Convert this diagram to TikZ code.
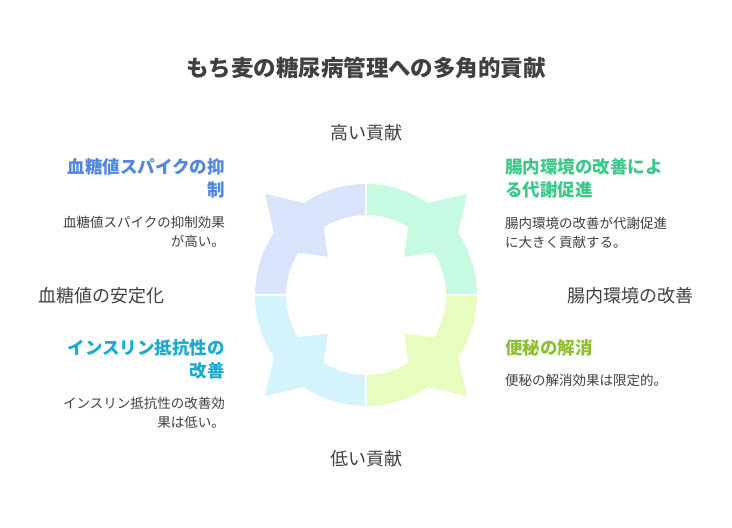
\documentclass[tikz,border=0pt]{standalone}
\usepackage{fontspec}
\setmainfont{Noto Sans CJK JP}
\usetikzlibrary{calc}
\begin{document}
\begin{tikzpicture}[x=1pt,y=-1pt,
  head/.style={font=\fontsize{17.5}{23}\selectfont\bfseries, align=#1, inner sep=0},
  body/.style={font=\fontsize{13.5}{18.5}\selectfont, text=black!75, align=#1, inner sep=0},
  lab/.style={font=\fontsize{18}{20}\selectfont, text=black!75, inner sep=0}]
\useasboundingbox (0,0) rectangle (732,528);
\definecolor{qb}{HTML}{D9E3FC}\definecolor{qg}{HTML}{C6FAE3}
\definecolor{ql}{HTML}{E8FCC0}\definecolor{qc}{HTML}{D3F3FD}
\definecolor{tb}{HTML}{4F86E0}\definecolor{tg}{HTML}{3CC88A}
\definecolor{tl}{HTML}{8FBF2F}\definecolor{tc}{HTML}{1BA9D0}
\coordinate (c) at (366,295);
\foreach \a/\col in {0/ql,90/qc,180/qb,270/qg}{
  \pgfmathsetmacro{\m}{\a+45}
  \fill[\col] ($(c)+(\a:111)$) arc[start angle=\a,end angle=\m-11,radius=111]
    -- ($(c)+(\m:143)$) -- ($(c)+(\m+11:111)$)
    arc[start angle=\m+11,end angle=\a+90,radius=111]
    -- ($(c)+(\a+90:80)$) arc[start angle=\a+90,end angle=\m+13,radius=80]
    -- ($(c)+(\m:54)$) -- ($(c)+(\m-13:80)$)
    arc[start angle=\m-13,end angle=\a,radius=80] -- cycle;
}
\draw[white,line width=1.5] ($(c)+(0,-115)$) -- ($(c)+(0,115)$) ($(c)+(-115,0)$) -- ($(c)+(115,0)$);
\node[font=\fontsize{22.5}{26}\selectfont\bfseries,text=black!75] (t) at (366,68) {もち麦の糖尿病管理への多角的貢献};
\node[lab] (hi) at (366,133) {高い貢献};
\node[lab] (lo) at (366,459) {低い貢献};
\node[lab,anchor=west] (l) at (38,296) {血糖値の安定化};
\node[lab,anchor=east] (r) at (694,296) {腸内環境の改善};
\node[head=right,text=tb,anchor=north east] (h1) at (225,158) {血糖値スパイクの抑\\制};
\node[body=right,anchor=north east] (b1) at (225,216) {血糖値スパイクの抑制効果\\が高い。};
\node[head=left,text=tg,anchor=north west] (h2) at (505,158) {腸内環境の改善によ\\る代謝促進};
\node[body=left,anchor=north west] (b2) at (505,217) {腸内環境の改善が代謝促進\\に大きく貢献する。};
\node[head=left,text=tl,anchor=north west] (h3) at (505,339) {便秘の解消};
\node[body=left,anchor=north west] (b3) at (505,374) {便秘の解消効果は限定的。};
\node[head=right,text=tc,anchor=north east] (h4) at (225,339) {インスリン抵抗性の\\改善};
\node[body=right,anchor=north east] (b4) at (225,397) {インスリン抵抗性の改善効\\果は低い。};
\end{tikzpicture}
\end{document}
